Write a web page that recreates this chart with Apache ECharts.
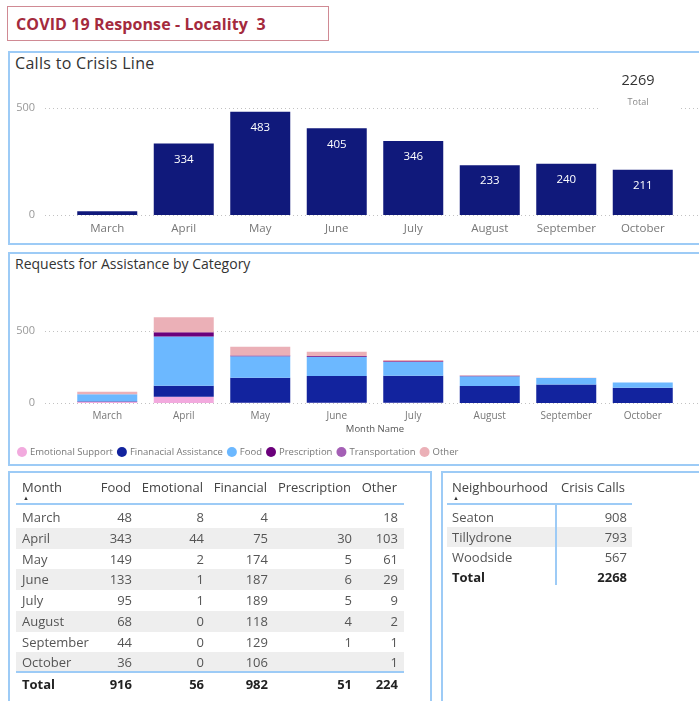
<!DOCTYPE html>
<html>
<head>
<meta charset="utf-8">
<script src="https://cdn.jsdelivr.net/npm/echarts@6/dist/echarts.min.js"></script>
<style>
  body { margin: 0; width: 699px; height: 701px; overflow: hidden; background: #fff; position: relative; font-family: "Open Sans", sans-serif; }
  .panel { position: absolute; box-sizing: border-box; border: 2px solid #9dcbf6; }
  .t { position: absolute; white-space: pre; }
  #chart { position: absolute; left: 0; top: 0; width: 699px; height: 701px; z-index: 1; }
  #tables { position: absolute; left: 0; top: 0; width: 699px; height: 701px; z-index: 2; }
</style>
</head>
<body>
<div class="panel" style="left:7px;top:6px;width:322px;height:35px;border:1.5px solid #d08a94;"></div>
<div class="t" style="left:16px;top:12px;font-size:16px;line-height:24px;font-weight:bold;letter-spacing:0.1px;color:#a42a3d;">COVID 19 Response - Locality  3</div>

<div class="panel" style="left:8px;top:51px;width:700px;height:194px;"></div>
<div class="t" style="left:15px;top:52px;font-size:16px;line-height:22px;letter-spacing:0.3px;color:#333;">Calls to Crisis Line</div>

<div class="panel" style="left:8px;top:252px;width:700px;height:214px;"></div>
<div class="t" style="left:15px;top:254px;font-size:14px;line-height:20px;color:#333;">Requests for Assistance by Category</div>

<div class="panel" style="left:8px;top:471px;width:424px;height:240px;"></div>
<div class="panel" style="left:441px;top:471px;width:270px;height:240px;"></div>

<div id="chart"></div>
<div id="tables"></div>

<script>
const months = ["March", "April", "May", "June", "July", "August", "September", "October"];
const calls = [17, 334, 483, 405, 346, 233, 240, 211];

const emotional = [8, 44, 2, 1, 1, 0, 0, 0];
const financial = [4, 75, 174, 187, 189, 118, 129, 106];
const food = [48, 343, 149, 133, 95, 68, 44, 36];
const prescription = [null, 30, 5, 6, 5, 4, 1, null];
const transportation = [null, null, null, null, null, null, null, null];
const other = [18, 103, 61, 29, 9, 2, 1, 1];

const neighbourhoods = ["Seaton", "Tillydrone", "Woodside"];
const crisisCalls = [908, 793, 567];

const sum = arr => arr.reduce((a, b) => a + (b || 0), 0);

const chart = echarts.init(document.getElementById("chart"));

const dotted = { lineStyle: { type: [1, 3], color: "#c2c2c2", width: 1 } };
const bgYAxis = (gridIndex) => ({
	gridIndex, type: "value", min: 0, max: 500, interval: 500,
	axisLine: { show: false }, axisTick: { show: false },
	axisLabel: { color: "#999", fontSize: 11, margin: 10 },
	splitLine: dotted,
});
const catAxis = (gridIndex, fontSize, margin) => ({
	gridIndex, type: "category", data: months,
	axisLine: { show: false }, axisTick: { show: false },
	axisLabel: { color: "#777", fontSize, margin, interval: 0 },
});

const stackSeries = [
	["Emotional Support", emotional, "#f2aade"],
	["Finanacial Assistance", financial, "#12239e"],
	["Food", food, "#6cb8ff"],
	["Prescription", prescription, "#6b007b"],
	["Transportation", transportation, "#a45fb5"],
	["Other", other, "#ebb0b7"],
].map(([name, data, color]) => ({
	name, type: "bar", stack: "req", xAxisIndex: 3, yAxisIndex: 3,
	data, barWidth: 60, itemStyle: { color },
}));

chart.setOption({
	animation: false,
	textStyle: { fontFamily: '"Open Sans", sans-serif' },
	grid: [
		{ left: 45, right: 0, top: 108, height: 107, outerBoundsMode: "none" },
		{ left: 69, right: 18, top: 108, height: 107, outerBoundsMode: "none" },
		{ left: 45, right: 0, top: 331, height: 72, outerBoundsMode: "none" },
		{ left: 69, right: 18, top: 316.6, height: 86.4, outerBoundsMode: "none" },
	],
	xAxis: [
		{ gridIndex: 0, type: "value", show: false },
		catAxis(1, 11.5, 8),
		{ gridIndex: 2, type: "value", show: false },
		{
			...catAxis(3, 10, 8),
			name: "Month Name", nameLocation: "middle", nameGap: 21, nameMoveOverlap: false,
			nameTextStyle: { color: "#555", fontSize: 9.5 },
		},
	],
	yAxis: [
		bgYAxis(0),
		{ gridIndex: 1, type: "value", min: 0, max: 500, show: false },
		bgYAxis(2),
		{ gridIndex: 3, type: "value", min: 0, max: 600, show: false },
	],
	legend: {
		left: 12, top: 442, icon: "circle", itemWidth: 10, itemHeight: 10, itemGap: 4,
		textStyle: { color: "#777", fontSize: 9.5, padding: [0, 0, 0, -2] },
		data: stackSeries.map(s => s.name),
	},
	graphic: [
		{ type: "rect", z: 10, shape: { x: 598, y: 66, width: 80, height: 48 }, style: { fill: "#fff" } },
		{ type: "text", z: 11, x: 638, y: 81, style: { text: String(sum(calls)), fill: "#333", font: '14.5px "Open Sans"', textAlign: "center", textVerticalAlign: "middle", verticalAlign: "middle" } },
		{ type: "text", z: 11, x: 638, y: 102, style: { text: "Total", fill: "#888", font: '9px "Open Sans"', textAlign: "center", textVerticalAlign: "middle", verticalAlign: "middle" } },
	],
	series: [
		{
			type: "bar", xAxisIndex: 1, yAxisIndex: 1, data: calls, barWidth: 60,
			itemStyle: { color: "#10197b" },
			label: {
				show: true, position: "insideTop", distance: 10, color: "#fff", fontSize: 11.5,
				formatter: p => (p.value < 100 ? "" : p.value),
			},
		},
		...stackSeries,
	],
});

// tables
const root = document.getElementById("tables");
function put(text, x, cy, opts = {}) {
	const d = document.createElement("div");
	d.className = "t";
	d.textContent = text;
	const h = 20;
	d.style.top = (cy - h / 2) + "px";
	d.style.lineHeight = h + "px";
	d.style.fontSize = (opts.size || 13) + "px";
	d.style.color = opts.color || "#555";
	if (opts.bold) d.style.fontWeight = "bold";
	if (opts.right) {
		d.style.left = (x - 200) + "px";
		d.style.width = "200px";
		d.style.textAlign = "right";
	} else {
		d.style.left = x + "px";
	}
	root.appendChild(d);
}
function rect(x, y, w, h, color) {
	const d = document.createElement("div");
	d.style.cssText = `position:absolute;left:${x}px;top:${y}px;width:${w}px;height:${h}px;background:${color};`;
	root.appendChild(d);
}

// month table
const cols = [
	["Food", food, 132],
	["Emotional", emotional, 204],
	["Financial", financial, 268],
	["Prescription", prescription, 352],
	["Other", other, 398],
];
const rowStep = 20.75;
months.forEach((m, i) => {
	if (i % 2 === 1) rect(16, 507 + i * rowStep, 388, rowStep, "#eeeeee");
});
rect(16, 503, 388, 2, "#9dcbf6");
rect(16, 671, 388, 2, "#9dcbf6");
put("Month", 22, 487, { color: "#444" });
put("\u25B2", 23, 498, { size: 6, color: "#333" });
cols.forEach(([name, , x]) => put(name, x - 1, 487, { right: true, color: "#444" }));
months.forEach((m, i) => {
	const cy = 517 + i * rowStep;
	put(m, 22, cy);
	cols.forEach(([, data, x]) => {
		if (data[i] !== null) put(String(data[i]), x, cy, { right: true });
	});
});
put("Total", 22, 684, { bold: true, color: "#222" });
cols.forEach(([, data, x]) => put(String(sum(data)), x, 684, { right: true, bold: true, color: "#222" }));

// neighbourhood table
rect(447, 527, 185, 20, "#eeeeee");
rect(447, 503, 185, 2, "#9dcbf6");
rect(555, 505, 2, 80, "#9dcbf6");
put("Neighbourhood", 452, 487, { color: "#444" });
put("\u25B2", 453, 498, { size: 6, color: "#333" });
put("Crisis Calls", 625, 487, { right: true, color: "#444" });
neighbourhoods.forEach((n, i) => {
	const cy = 517 + i * 20;
	put(n, 452, cy);
	put(String(crisisCalls[i]), 627, cy, { right: true });
});
put("Total", 452, 577, { bold: true, color: "#222" });
put(String(sum(crisisCalls)), 627, 577, { right: true, bold: true, color: "#222" });
</script>
</body>
</html>
